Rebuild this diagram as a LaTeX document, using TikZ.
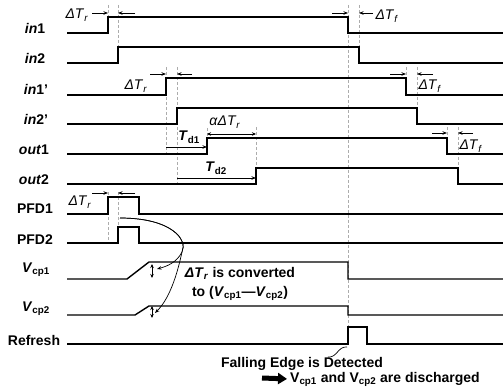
\documentclass[tikz,border=0pt]{standalone}
\usepackage{fontspec}
\setmainfont{Liberation Sans}
\usetikzlibrary{positioning,arrows.meta,calc}
\tikzset{
  sig/.style  ={line width=1.4pt, line join=miter},
  guide/.style={gray!65, line width=0.6pt, dash pattern=on 3pt off 2pt},
  lbl/.style  ={font=\fontsize{14}{16}\selectfont\bfseries, anchor=base, inner sep=0pt},
  ann/.style  ={font=\fontsize{14}{16}\selectfont, anchor=base, inner sep=0pt},
  note/.style ={font=\fontsize{14}{19}\selectfont\bfseries, align=center, inner sep=0pt},
  fl/.style   ={-{Stealth[length=4.5pt,width=3.5pt]}, line width=0.7pt},
  dim/.style  ={{Stealth[length=4pt,width=3.5pt]}-{Stealth[length=4pt,width=3.5pt]}, line width=0.7pt},
  fat/.style  ={-{Triangle[length=9pt,width=11pt]}, line width=5pt},
}
\newcommand{\dT}[1]{\textit{ΔT}\textsubscript{\textit{#1}}}
\newcommand{\vcp}[1]{\textit{V}\textsubscript{cp#1}}

\begin{document}
\begin{tikzpicture}[x=1pt,y=-1pt]
  \useasboundingbox (0,0) rectangle (503,390);

  % signal names
  \node[lbl](lin1)  at (35,34)  {\textit{in}1};
  \node[lbl](lin2)  at (35,64)  {\textit{in}2};
  \node[lbl](lin1p) at (36,95)  {\textit{in}1'};
  \node[lbl](lin2p) at (36,125) {\textit{in}2'};
  \node[lbl](lout1) at (34,155) {\textit{out}1};
  \node[lbl](lout2) at (34,185) {\textit{out}2};
  \node[lbl](lpfd1) at (35,214) {PFD1};
  \node[lbl](lpfd2) at (35,244) {PFD2};
  \node[lbl](lvcp1) at (36,272) {\vcp{1}};
  \node[lbl](lvcp2) at (36,311) {\vcp{2}};
  \node[lbl](lref)  at (34,345) {Refresh};

  % guides
  \draw[guide] (108,5)--(108,17);   \draw[guide] (118,5)--(118,47);
  \draw[guide] (348,5)--(348,344);  \draw[guide] (359,5)--(359,47);
  \draw[guide] (166,67)--(166,154); \draw[guide] (177,67)--(177,184);
  \draw[guide] (406,67)--(406,78);  \draw[guide] (417,67)--(417,108);
  \draw[guide] (207,128)--(207,138);\draw[guide] (256,127)--(256,168);
  \draw[guide] (447,127)--(447,138);\draw[guide] (458,127)--(458,168);
  \draw[guide] (108,192)--(108,243);\draw[guide] (118,192)--(118,227);

  % waveforms
  \draw[sig] (67,33)--(108,33)--(108,17)--(348,17)--(348,33)--(503,33);
  \draw[sig] (67,63)--(118,63)--(118,47)--(359,47)--(359,63)--(503,63);
  \draw[sig] (67,95)--(166,95)--(166,78)--(406,78)--(406,95)--(503,95);
  \draw[sig] (67,124)--(177,124)--(177,108)--(417,108)--(417,124)--(503,124);
  \draw[sig] (67,154)--(207,154)--(207,138)--(447,138)--(447,154)--(503,154);
  \draw[sig] (67,184)--(256,184)--(256,168)--(458,168)--(458,184)--(503,184);
  \draw[sig] (67,214)--(108,214)--(108,197)--(139,197)--(139,214)--(503,214);
  \draw[sig] (67,243)--(118,243)--(118,227)--(139,227)--(139,243)--(503,243);
  \draw[sig] (67,279)--(127,279)--(149,262)--(348,262)--(348,279)--(503,279);
  \draw[sig] (67,315)--(135,315)--(149,306)--(348,306)--(348,315)--(503,315);
  \draw[sig] (67,344)--(348,344)--(348,327)--(367,327)--(367,344)--(503,344);

  % skew marks
  \draw[fl] (92,13)--(108,13);  \draw[fl] (135,13)--(118,13);
  \node[ann](dtr1) at (77,19) {\dT{r}};
  \draw[fl] (332,13)--(348,13); \draw[fl] (373,13)--(359,13);
  \node[ann](dtf1) at (387,20) {\dT{f}};
  \draw[fl] (150,74)--(166,74); \draw[fl] (192,74)--(177,74);
  \node[ann](dtr2) at (136,90) {\dT{r}};
  \draw[fl] (390,74)--(406,74); \draw[fl] (433,74)--(417,74);
  \node[ann](dtf2) at (430,90) {\dT{f}};
  \draw[fl] (432,133)--(447,133); \draw[fl] (473,133)--(458,133);
  \node[ann](dtf3) at (471,150) {\dT{f}};
  \draw[fl] (92,193)--(108,193); \draw[fl] (135,193)--(118,193);
  \node[ann](dtr3) at (80,206) {\dT{r}};

  % delays
  \draw[fl] (166,147)--(207,147);
  \node[ann](td1) at (189,141) {\textbf{\textit{T}\textsubscript{d1}}};
  \draw[fl] (177,178)--(256,178);
  \node[ann](td2) at (216,172) {\textbf{\textit{T}\textsubscript{d2}}};
  \draw[dim] (207,134)--(256,134);
  \node[ann](adt) at (225,126) {\textit{α}\dT{r}};

  % charge steps
  \coordinate (v1a) at (152,264); \coordinate (v1b) at (152,278);
  \coordinate (v2a) at (152,306); \coordinate (v2b) at (152,318);
  \draw[dim] (v1a)--(v1b); \draw[dim] (v2a)--(v2b);

  \coordinate (cs) at (120,218);
  \coordinate (t1) at (157,269);
  \coordinate (t2) at (155,313);
  \draw[fl] (cs) .. controls (172,218) and (188,240) .. (182,252)
                 .. controls (177,262) and (168,266) .. (t1);
  \draw[fl] (cs) .. controls (172,218) and (188,240) .. (182,252)
                 .. controls (176,280) and (168,300) .. (t2);

  \node[note](conv) at (240,284)
        {\dT{r} is converted\\ to (\vcp{1}—\vcp{2})};

  % refresh
  \node[note, anchor=base](fall) at (302,367) {Falling Edge is Detected};
  \node[note, anchor=base west](disc) at (290,382)
        {V\textsubscript{cp1} and V\textsubscript{cp2} are discharged};
  \coordinate (edge) at (347,347);
  \coordinate (sq) at (328,357);
  \draw[line width=0.7pt] (edge) .. controls (338,346) and (337,358) .. (sq);
  \coordinate (ah) at (262,378);
  \draw[fat, shorten >=3pt] (ah) -- (disc.west);
\end{tikzpicture}
\end{document}
